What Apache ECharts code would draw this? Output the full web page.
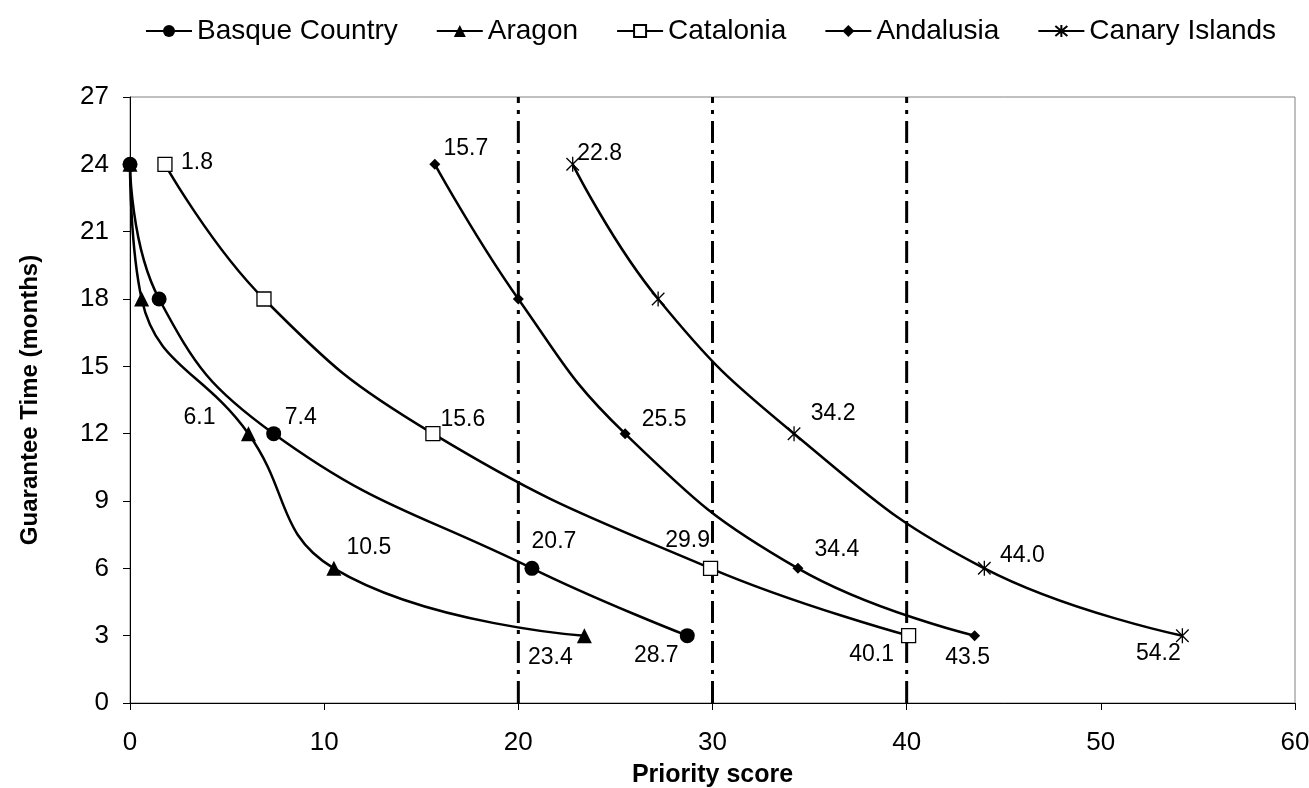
<!DOCTYPE html>
<html>
<head>
<meta charset="utf-8">
<script src="https://cdn.jsdelivr.net/npm/echarts@6/dist/echarts.min.js"></script>
<style>
html,body{margin:0;padding:0;background:#fff;}
#c{width:1309px;height:788px;}
</style>
</head>
<body>
<div id="c"></div>
<script>
// ---- data ----
const guaranteeMonths = [24, 18, 12, 6, 3];
const basqueScores    = [0, 1.5, 7.4, 20.7, 28.7];
const aragonScores    = [0, 0.6, 6.1, 10.5, 23.4];
const cataloniaScores = [1.8, 6.9, 15.6, 29.9, 40.1];
const andalusiaScores = [15.7, 20.0, 25.5, 34.4, 43.5];
const canaryScores    = [22.8, 27.2, 34.2, 44.0, 54.2];
const seriesNames = ['Basque Country', 'Aragon', 'Catalonia', 'Andalusia', 'Canary Islands'];
const xTicks = [0, 10, 20, 30, 40, 50, 60];
const yTicks = [0, 3, 6, 9, 12, 15, 18, 21, 24, 27];
const thresholdScores = [20, 30, 40];
// which points carry a value label (index into arrays)
const basqueLabeled    = [2, 3, 4];
const aragonLabeled    = [2, 3, 4];
const cataloniaLabeled = [0, 2, 3, 4];
const andalusiaLabeled = [0, 2, 3, 4];
const canaryLabeled    = [0, 2, 3, 4];

// ---- styling (label offsets in px, relative to the point) ----
const labelOffsets = {
  'Basque Country': [null, null, [27, -16], [22, -27], [-31, 20]],
  'Aragon':         [null, null, [-49, -16], [35, -21], [-34, 22]],
  'Catalonia':      [[32, -2], null, [30, -14], [-23, -28], [-37, 19]],
  'Andalusia':      [[31, -16], null, [39, -14], [39, -19], [-7, 22]],
  'Canary Islands': [[27, -11], null, [39, -20], [38, -13], [-24, 18]]
};
const FONT = '"Liberation Sans", Arial, Helvetica, sans-serif';
const asterisk = 'path://M0,1 L10,11 M10,1 L0,11 M5,0 L5,12';

const symbolStyles = {
  'Basque Country': {symbol: 'circle', symbolSize: 15, itemStyle: {color: '#000'}},
  'Aragon':         {symbol: 'triangle', symbolSize: 15, itemStyle: {color: '#000'}},
  'Catalonia':      {symbol: 'rect', symbolSize: 14, itemStyle: {color: '#fff', borderColor: '#000', borderWidth: 1.3}},
  'Andalusia':      {symbol: 'diamond', symbolSize: 11, itemStyle: {color: '#000'}},
  'Canary Islands': {symbol: asterisk, symbolSize: 15, itemStyle: {color: 'rgba(0,0,0,0)', borderColor: '#000', borderWidth: 1.3}}
};

function buildSeries(name, xs, labeled) {
  const data = xs.map((x, i) => {
    const item = {value: [x, guaranteeMonths[i]]};
    if (labeled.indexOf(i) >= 0) {
      item.label = {show: true, position: 'inside', offset: labelOffsets[name][i]};
    }
    return item;
  });
  const st = symbolStyles[name];
  return {
    name: name,
    type: 'line',
    smooth: 0.45,
    data: data,
    symbol: st.symbol,
    symbolSize: st.symbolSize,
    symbolKeepAspect: true,
    itemStyle: st.itemStyle,
    lineStyle: {color: '#000', width: 2.5},
    label: {show: false, color: '#000', fontSize: 23, fontFamily: FONT,
      formatter: p => p.value[0].toFixed(1)},
    emphasis: {disabled: true},
    z: 3
  };
}

const series = [
  buildSeries('Basque Country', basqueScores, basqueLabeled),
  buildSeries('Aragon', aragonScores, aragonLabeled),
  buildSeries('Catalonia', cataloniaScores, cataloniaLabeled),
  buildSeries('Andalusia', andalusiaScores, andalusiaLabeled),
  buildSeries('Canary Islands', canaryScores, canaryLabeled)
];
// threshold dash-dot vertical lines
thresholdScores.forEach(t => {
  series.push({
    type: 'line',
    data: [[t, yTicks[0]], [t, yTicks[yTicks.length - 1]]],
    symbol: 'none',
    lineStyle: {color: '#000', width: 3, type: [22, 7, 4, 7]},
    silent: true,
    z: 2
  });
});

const chart = echarts.init(document.getElementById('c'), null, {renderer: 'canvas'});
chart.setOption({
  animation: false,
  backgroundColor: '#fff',
  textStyle: {fontFamily: FONT, color: '#000'},
  legend: {
    data: seriesNames,
    top: 12,
    left: 140,
    itemWidth: 46,
    itemHeight: 15,
    itemGap: 38,
    textStyle: {fontSize: 28, fontFamily: FONT, color: '#000'},
    selectedMode: false
  },
  grid: {left: 130, right: 14, top: 97, bottom: 85, show: true, borderColor: '#808080', borderWidth: 1,
    containLabel: false, outerBoundsMode: 'none'},
  xAxis: {
    type: 'value',
    min: xTicks[0], max: xTicks[xTicks.length - 1], interval: xTicks[1] - xTicks[0],
    name: 'Priority score',
    nameLocation: 'middle',
    nameGap: 60,
    nameTextStyle: {fontSize: 25, fontWeight: 'bold', fontFamily: FONT, color: '#000', verticalAlign: 'top'},
    axisLine: {show: true, lineStyle: {color: '#000', width: 1}},
    axisTick: {show: true, inside: false, length: 7, lineStyle: {color: '#000'}},
    axisLabel: {fontSize: 26, color: '#000', margin: 27, fontFamily: FONT},
    splitLine: {show: false}
  },
  yAxis: {
    type: 'value',
    min: yTicks[0], max: yTicks[yTicks.length - 1], interval: yTicks[1] - yTicks[0],
    name: 'Guarantee Time (months)',
    nameLocation: 'middle',
    nameGap: 88,
    nameTextStyle: {fontSize: 24, fontWeight: 'bold', fontFamily: FONT, color: '#000'},
    axisLine: {show: true, lineStyle: {color: '#000', width: 1}},
    axisTick: {show: true, inside: false, length: 7, lineStyle: {color: '#000'}},
    axisLabel: {fontSize: 26, color: '#000', margin: 21, fontFamily: FONT},
    splitLine: {show: false}
  },
  series: series
});
</script>
</body>
</html>
